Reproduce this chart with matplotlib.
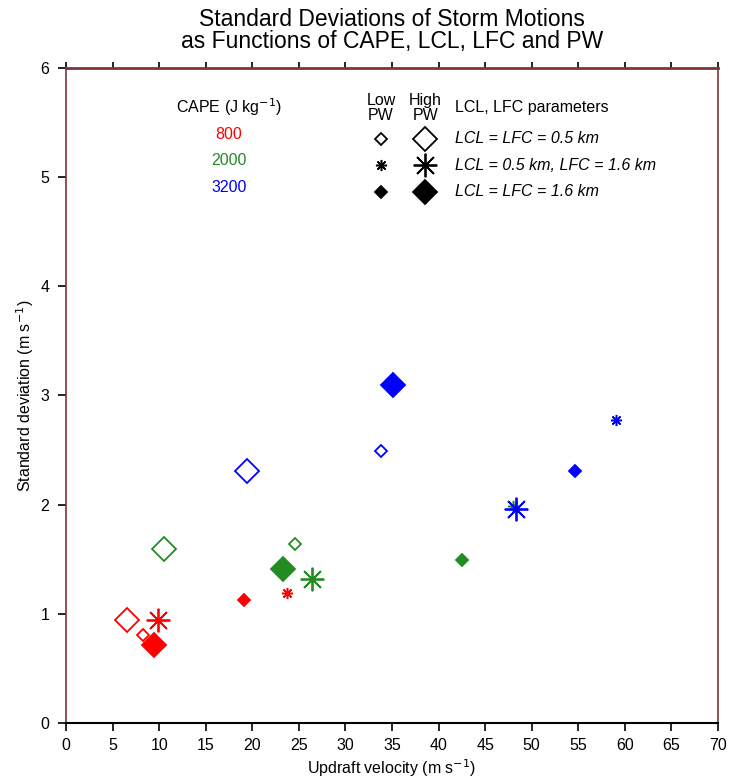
import matplotlib
matplotlib.use('Agg')
import matplotlib.pyplot as plt

plt.rcParams['font.family'] = ['Liberation Sans', 'DejaVu Sans']
plt.rcParams['axes.unicode_minus'] = False

# CAPE classes (J kg-1) and their colours
cape = ['800', '2000', '3200']
cape_colors = ['#ff0000', '#228b22', '#0000ff']

# LCL/LFC configurations (columns of the arrays below)
configs = ['LCL = LFC = 0.5 km', 'LCL = 0.5 km, LFC = 1.6 km', 'LCL = LFC = 1.6 km']

# updraft velocity (m s-1), rows = CAPE, cols = config
w_low_pw = [[8.3, 23.7, 19.1],
            [24.6, 48.0, 42.5],
            [33.8, 59.0, 54.6]]
w_high_pw = [[6.6, 9.9, 9.4],
             [10.5, 26.4, 23.3],
             [19.4, 48.3, 35.1]]

# standard deviation of storm motion (m s-1)
sd_low_pw = [[0.81, 1.19, 1.13],
             [1.64, 1.99, 1.49],
             [2.49, 2.78, 2.31]]
sd_high_pw = [[0.94, 0.945, 0.71],
              [1.59, 1.32, 1.41],
              [2.31, 1.96, 3.10]]

xticks = list(range(0, 71, 5))
yticks = list(range(0, 7))

# marker style per config: (marker, filled)
star = (8, 2, 0)
styles = [('D', False), (star, None), ('D', True)]
small = {'D': 6.5, 'star': 8.0}
big = {'D': 12.2, 'star': 17}
frame = '#7d3535'


def draw(ax, x, y, style, color, big_size, **kw):
    mk, filled = style
    key = 'star' if mk == star else 'D'
    ms = big[key] if big_size else small[key]
    if mk == star:
        ax.plot(x, y, linestyle='none', marker=mk, ms=ms, mec=color,
                mew=1.3 if big_size else 1.1, **kw)
    else:
        ax.plot(x, y, linestyle='none', marker=mk, ms=ms, mec=color,
                mfc=color if filled else 'none', mew=1.3, **kw)


fig = plt.figure(figsize=(7.32, 7.81), dpi=100)
ax = fig.add_axes([0.0902, 0.0743, 0.8907, 0.8386])

for i, col in enumerate(cape_colors):
    for j in range(3):
        draw(ax, w_low_pw[i][j], sd_low_pw[i][j], styles[j], col, False)
        draw(ax, w_high_pw[i][j], sd_high_pw[i][j], styles[j], col, True)

ax.set_xlim(0, 70)
ax.set_ylim(0, 6)
ax.set_xticks(xticks)
ax.set_yticks(yticks)
ax.tick_params(axis='both', direction='out', length=6, width=1.2, labelsize=11.5,
               colors='black')
ax.tick_params(axis='x', pad=5)
ax.tick_params(axis='y', pad=6)

# short outward ticks along the top edge
top = ax.secondary_xaxis('top')
top.set_xticks(xticks)
top.tick_params(direction='out', length=4.5, width=1.2, labeltop=False)
top.spines['top'].set_visible(False)

for s in ['top', 'right', 'left']:
    ax.spines[s].set_color(frame)
ax.spines['top'].set_linewidth(2.0)
ax.spines['right'].set_linewidth(1.2)
ax.spines['left'].set_linewidth(1.2)
ax.spines['bottom'].set_color('black')
ax.spines['bottom'].set_linewidth(1.5)

ax.set_xlabel('Updraft velocity (m s$^{-1}$)', fontsize=11.5, labelpad=3)
ax.set_ylabel('Standard deviation (m s$^{-1}$)', fontsize=11.5, labelpad=3)

fig.text(0.5355, 0.961, 'Standard Deviations of Storm Motions\nas Functions of CAPE, LCL, LFC and PW',
         ha='center', va='center', fontsize=16.5, linespacing=0.92)

# custom legend (axes fraction layout)
tr = ax.transAxes
ax.text(0.25, 0.940, 'CAPE (J kg$^{-1}$)', transform=tr, ha='center', va='center', fontsize=11.5)
for k, (lab, col) in enumerate(zip(cape, cape_colors)):
    ax.text(0.25, 0.899 - k * 0.0405, lab, transform=tr, ha='center', va='center',
            fontsize=11.5, color=col)

ax.text(0.483, 0.939, 'Low\nPW', transform=tr, ha='center', va='center', fontsize=11.5,
        linespacing=0.95)
ax.text(0.551, 0.939, 'High\nPW', transform=tr, ha='center', va='center', fontsize=11.5,
        linespacing=0.95)
ax.text(0.597, 0.940, 'LCL, LFC parameters', transform=tr, ha='left', va='center', fontsize=11.5)
for k, (lab, st) in enumerate(zip(configs, styles)):
    yy = 0.892 - k * 0.0405
    draw(ax, 0.483, yy, st, 'black', False, transform=tr, clip_on=False)
    draw(ax, 0.551, yy, st, 'black', True, transform=tr, clip_on=False)
    ax.text(0.597, yy, lab, transform=tr, ha='left', va='center', fontsize=11.5,
            style='italic')

fig.savefig('out.png', dpi=100)
